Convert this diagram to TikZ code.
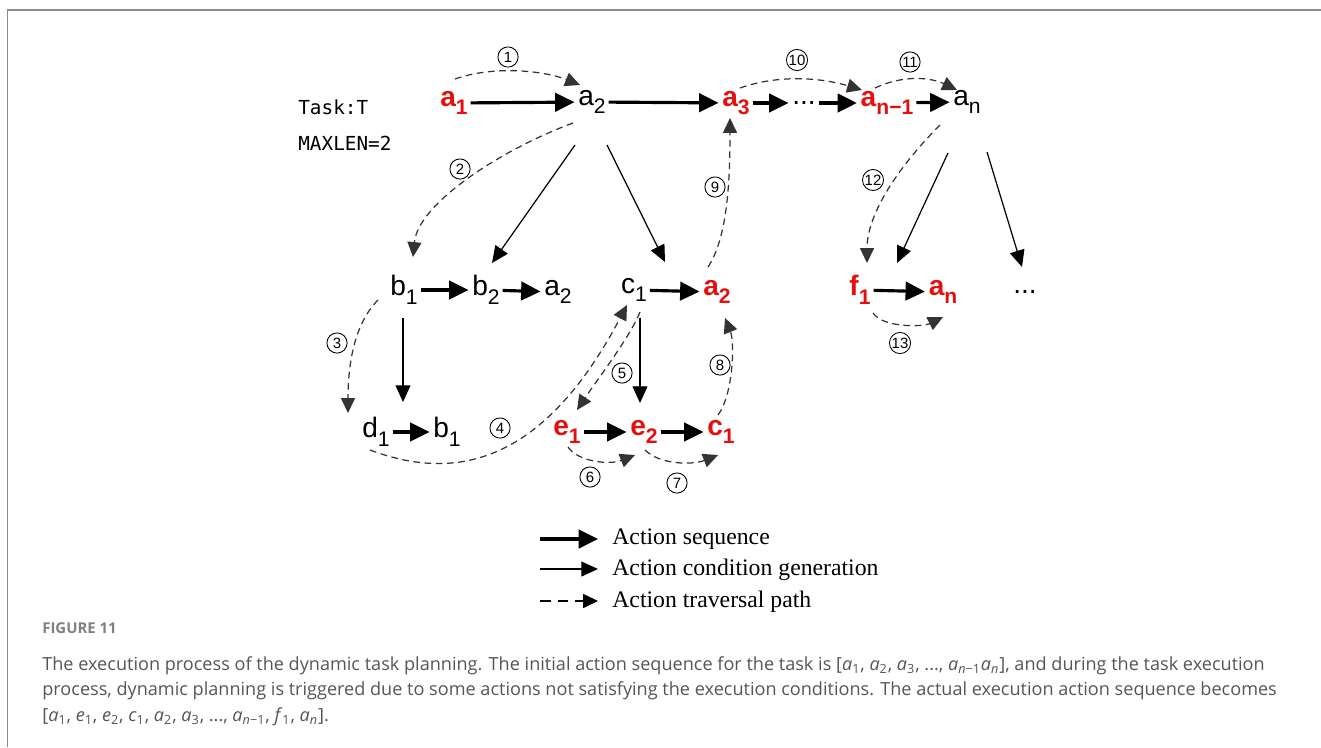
\documentclass[tikz,border=0pt]{standalone}
\usepackage{fontspec}
\setmainfont{Liberation Sans}
\newfontfamily\legendfont{Liberation Serif}
\newfontfamily\taskfont{DejaVu Sans Mono}
\newfontfamily\capfont{Open Sans}
\usetikzlibrary{arrows.meta,calc}
\definecolor{actred}{RGB}{228,16,16}
\definecolor{capgray}{RGB}{85,85,85}
\definecolor{framegray}{RGB}{140,140,140}
\newcommand{\lo}[1]{\raisebox{-0.3em}{\fontsize{12}{12}\selectfont #1}}
\newcommand{\cv}[2]{\textit{#1}\textsubscript{#2}}

\begin{document}
\begin{tikzpicture}[x=0.02cm,y=-0.02cm,
  act/.style={inner sep=0.5pt,font=\fontsize{16}{16}\selectfont},
  redact/.style={inner sep=0.5pt,text=actred,font=\fontsize{16}{16}\selectfont\bfseries},
  seq/.style={-{Triangle[length=11pt,width=10.5pt]},line width=1.8pt,shorten <=1pt,shorten >=1.5pt},
  cond/.style={-{Triangle[length=9.5pt,width=8.5pt]},line width=0.7pt},
  trav/.style={-{Triangle[length=8.5pt,width=8pt]},line width=0.7pt,dash pattern=on 3.8pt off 2.6pt,draw=black!80},
  num/.style={circle,draw,line width=0.5pt,inner sep=0.3pt,minimum size=11.5pt,font=\fontsize{8.5}{8.5}\selectfont},
  legend/.style={anchor=west,inner sep=0pt,font=\legendfont\fontsize{13.5}{13.5}\selectfont}]
\useasboundingbox (0,0) rectangle (1321,747);
\draw[framegray,line width=1pt] (7.5,747) -- (7.5,10) -- (1321,10);

% task header
\node[anchor=west,inner sep=0pt,font=\taskfont\fontsize{11}{11}\selectfont] (task) at (298,107) {Task:T};
\node[anchor=west,inner sep=0pt,font=\taskfont\fontsize{11}{11}\selectfont] (maxlen) at (298,143) {MAXLEN=2};

% action sequence
\node[redact] (a1) at (454,103) {a\lo{1}};
\node[act] (a2) at (592,102) {a\lo{2}};
\node[redact] (a3) at (736,103) {a\lo{3}};
\node[act] (dots) at (804,103) {...};
\node[redact] (an1) at (887,103) {a\lo{n−1}};
\node[act] (an) at (967,102) {a\lo{n}};
\node[act] (b1) at (404,290) {b\lo{1}};
\node[act] (b2) at (486,290) {b\lo{2}};
\node[act] (ba2) at (558,292) {a\lo{2}};
\node[act] (c1) at (634,290) {c\lo{1}};
\node[redact] (ca2) at (717,292) {a\lo{2}};
\node[act] (d1) at (376,432) {d\lo{1}};
\node[act] (db1) at (447,432) {b\lo{1}};
\node[redact] (e1) at (567,432) {e\lo{1}};
\node[redact] (e2) at (644,432) {e\lo{2}};
\node[redact] (ec1) at (721,432) {c\lo{1}};
\node[redact] (f1) at (860,290) {f\lo{1}};
\node[redact] (fan) at (943,292) {a\lo{n}};
\node[act] (fdots) at (1025,292) {...};

\foreach \p/\q in {a1/a2,a2/a3,a3/dots,dots/an1,an1/an,b1/b2,b2/ba2,c1/ca2,d1/db1,e1/e2,e2/ec1,f1/fan}
  \draw[seq] (\p) -- (\q);

% condition generation
\draw[cond] ($(a2)+(-17,43)$) -- ($(b2)+(6,-27)$);
\draw[cond] ($(a2)+(15,43)$) -- ($(c1)+(31,-28)$);
\draw[cond] ($(b1)+(-1,28)$) -- ($(b1)+(-1,112)$);
\draw[cond] ($(c1)+(6,28)$) -- ($(c1)+(6,113)$);
\draw[cond] ($(an)+(-19,51)$) -- ($(fan)+(-46,-29)$);
\draw[cond] ($(an)+(20,50)$) -- ($(fdots)+(-3,-25)$);

% traversal path
\draw[trav] ($(a1)+(1,-24)$) .. controls +(40,-14) and +(-35,-14) .. ($(a2)+(-12,-17)$);
\draw[trav] ($(a2)+(-19,21)$) .. controls +(-73,27) and +(5,-53) .. ($(b1)+(9,-33)$);
\draw[trav] ($(b1)+(-26,10)$) .. controls +(-25,25) and +(0,-45) .. ($(d1)+(-28,-19)$);
\draw[trav] ($(d1)+(-6,18)$) .. controls +(80,30) and +(-87,165) .. ($(c1)+(-7,15)$);
\draw[trav] ($(c1)+(6,22)$) .. controls +(-10,25) and +(20,-30) .. ($(e1)+(10,-22)$);
\draw[trav] ($(e1)+(1,15)$) .. controls +(10,15) and +(-25,10) .. ($(e2)+(-9,23)$);
\draw[trav] ($(e2)+(1,18)$) .. controls +(15,15) and +(-25,10) .. ($(ec1)+(-3,23)$);
\draw[trav] ($(ec1)+(-3,-17)$) .. controls +(15,-20) and +(10,25) .. ($(ca2)+(8,26)$);
\draw[trav] ($(ca2)+(-9,-25)$) .. controls +(20,-30) and +(0,60) .. ($(a3)+(-6,15)$);
\draw[trav] ($(a3)+(4,-15)$) .. controls +(40,-14) and +(-40,-12) .. ($(an1)+(-25,-13)$);
\draw[trav] ($(an1)+(-12,-15)$) .. controls +(30,-14) and +(-25,-12) .. ($(an)+(-10,-12)$);
\draw[trav] ($(an)+(-27,23)$) .. controls +(-40,40) and +(0,-50) .. ($(f1)+(7,-27)$);
\draw[trav] ($(f1)+(13,23)$) .. controls +(10,15) and +(-20,10) .. ($(fan)+(0,25)$);

\foreach \k/\x/\y in {1/508/57,2/460/169,3/337/343,4/500/428,5/622/373,6/590/477,7/677/483,
                      8/720/365,9/715/187,10/797/60,11/910/62,12/873/180,13/900/343}
  \node[num] (n\k) at (\x,\y) {\k};

% legend
\node[legend] (lseq) at (612,539) {Action sequence};
\node[legend] (lcond) at (612,570) {Action condition generation};
\node[legend] (ltrav) at (612,602) {Action traversal path};
\draw[seq,shorten <=0pt,shorten >=0pt] ($(lseq.west)+(-72,0)$) -- ($(lseq.west)+(-14,0)$);
\draw[cond] ($(lcond.west)+(-72,-1)$) -- ($(lcond.west)+(-14,-1)$);
\draw[trav,draw=black,dash pattern=on 6pt off 4pt] ($(ltrav.west)+(-72,-1)$) -- ($(ltrav.west)+(-14,-1)$);

% caption
\node[anchor=west,inner sep=0pt,text=gray,font=\capfont\bfseries\fontsize{8.5}{8.5}\selectfont] (fig) at (42,628) {FIGURE 11};
\node[anchor=west,inner sep=0pt,text=capgray,font=\capfont\fontsize{10.3}{10.3}\selectfont] (cap1) at (42,666)
  {The execution process of the dynamic task planning. The initial action sequence for the task is [\cv{a}{1}, \cv{a}{2}, \cv{a}{3}, ..., \cv{a}{\textit{n}−1}\cv{a}{\textit{n}}], and during the task execution};
\node[anchor=west,inner sep=0pt,text=capgray,font=\capfont\fontsize{10.3}{10.3}\selectfont] (cap2) at (42,691)
  {process, dynamic planning is triggered due to some actions not satisfying the execution conditions. The actual execution action sequence becomes};
\node[anchor=west,inner sep=0pt,text=capgray,font=\capfont\fontsize{10.3}{10.3}\selectfont] (cap3) at (42,717)
  {[\cv{a}{1}, \cv{e}{1}, \cv{e}{2}, \cv{c}{1}, \cv{a}{2}, \cv{a}{3}, ..., \cv{a}{\textit{n}−1}, \cv{f}{1}, \cv{a}{\textit{n}}].};
\end{tikzpicture}
\end{document}
